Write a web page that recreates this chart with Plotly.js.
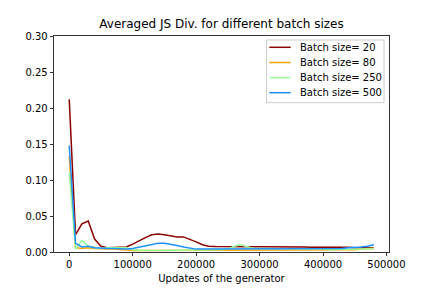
<!DOCTYPE html>
<html>
<head>
<meta charset="utf-8">
<script src="https://cdn.plot.ly/plotly-3.0.1.min.js"></script>
<style>html,body{margin:0;padding:0;background:#fff;}#chart{width:432px;height:288px;}</style>
</head>
<body>
<div id="chart"></div>
<script>
const updates = [0,10000,20000,30000,40000,50000,60000,70000,80000,90000,
  100000,110000,120000,130000,140000,150000,160000,170000,180000,190000,
  200000,210000,220000,230000,240000,250000,260000,270000,280000,290000,
  300000,310000,320000,330000,340000,350000,360000,370000,380000,390000,
  400000,410000,420000,430000,440000,450000,460000,470000,480000];

const batch20 = [0.212,0.024,0.039,0.043,0.018,0.008,0.006,0.006,0.006,0.007,
  0.011,0.016,0.020,0.024,0.025,0.024,0.022,0.021,0.021,0.018,
  0.014,0.010,0.008,0.0075,0.0075,0.007,0.007,0.008,0.0075,0.0075,
  0.008,0.008,0.008,0.0075,0.008,0.007,0.007,0.007,0.0065,0.0065,
  0.007,0.0075,0.007,0.007,0.0065,0.006,0.006,0.006,0.006];

const batch80 = [0.133,0.006,0.005,0.006,0.005,0.004,0.004,0.004,0.003,0.002,
  0.002,0.002,0.002,0.002,0.002,0.002,0.002,0.002,0.002,0.002,
  0.002,0.002,0.002,0.002,0.002,0.002,0.002,0.002,0.002,0.002,
  0.002,0.002,0.002,0.002,0.002,0.002,0.002,0.002,0.002,0.002,
  0.002,0.002,0.002,0.002,0.002,0.003,0.004,0.005,0.005];

const batch250 = [0.110,0.004,0.016,0.008,0.006,0.005,0.006,0.006,0.007,0.006,
  0.003,0.002,0.002,0.002,0.002,0.002,0.002,0.002,0.002,0.002,
  0.002,0.002,0.002,0.002,0.003,0.004,0.008,0.010,0.007,0.005,
  0.005,0.005,0.005,0.005,0.005,0.005,0.005,0.005,0.005,0.005,
  0.004,0.003,0.003,0.004,0.004,0.004,0.004,0.005,0.005];

const batch500 = [0.148,0.012,0.007,0.008,0.006,0.005,0.005,0.005,0.004,0.004,
  0.005,0.007,0.009,0.011,0.012,0.012,0.011,0.009,0.007,0.005,
  0.004,0.004,0.004,0.004,0.004,0.004,0.004,0.004,0.004,0.004,
  0.004,0.004,0.004,0.004,0.004,0.004,0.004,0.004,0.004,0.004,
  0.004,0.004,0.005,0.005,0.006,0.006,0.007,0.008,0.010];

const seriesNames = ['Batch size= 20','Batch size= 80','Batch size= 250','Batch size= 500'];
const xTicks = [0,100000,200000,300000,400000,500000];
const yTicks = [0,0.05,0.10,0.15,0.20,0.25,0.30];

const colors = ['#8b0000','#ffa500','#98fb98','#1e90ff'];
const values = [batch20, batch80, batch250, batch500];
const traces = values.map((v,i)=>({
  x: updates, y: v, type:'scatter', mode:'lines', name: seriesNames[i],
  line:{color:colors[i], width:1.5}
}));

const font = {family:'DejaVu Sans, sans-serif', size:10, color:'#000'};

// Legend drawn with shapes + annotations (matplotlib-like compact spacing)
const plotL = 54, plotR = 389, plotT = 36, plotB = 252;
const px2x = p => (p - plotL) / (plotR - plotL);
const py2y = p => (plotB - p) / (plotB - plotT);
const rowY = [47.3, 62.5, 77.6, 92.7];
const shapes = [{
  type:'rect', xref:'paper', yref:'paper', x0:px2x(266.5), x1:px2x(384), y0:py2y(102.7), y1:py2y(40),
  line:{color:'#cccccc', width:1}, fillcolor:'rgba(255,255,255,0.8)', layer:'above'
}];
const annotations = [];
seriesNames.forEach((n,i)=>{
  shapes.push({type:'line', xref:'paper', yref:'paper', x0:px2x(269.3), x1:px2x(290.7), y0:py2y(rowY[i]), y1:py2y(rowY[i]),
    line:{color:colors[i], width:1.5}, layer:'above'});
  annotations.push({xref:'paper', yref:'paper', x:px2x(299), y:py2y(rowY[i]), xanchor:'left', yanchor:'middle',
    text:n, showarrow:false, font:font, borderpad:0});
});

const layout = {
  width:432, height:288,
  margin:{l:54, r:43, t:36, b:36, pad:0},
  paper_bgcolor:'#fff', plot_bgcolor:'#fff',
  font: font,
  title:{text:'Averaged JS Div. for different batch sizes', font:{family:'DejaVu Sans, sans-serif', size:12, color:'#000'},
    x:0.5, xref:'paper', y:1-24/288, yref:'container', yanchor:'middle', xanchor:'center'},
  xaxis:{range:[-24000,504000], tickvals:xTicks, ticktext:xTicks.map(String), ticks:'outside', ticklen:3.5, tickwidth:0.8,
    tickcolor:'#000', showline:true, linecolor:'#000', linewidth:0.8, mirror:true, showgrid:false, zeroline:false,
    tickfont:font, title:{text:'Updates of the generator', font:font, standoff:5}},
  yaxis:{range:[0,0.30], tickvals:yTicks, ticktext:yTicks.map(v=>v.toFixed(2)), ticks:'outside', ticklen:3.5, tickwidth:0.8,
    tickcolor:'#000', showline:true, linecolor:'#000', linewidth:0.8, mirror:true, showgrid:false, zeroline:false,
    tickfont:font},
  shapes: shapes,
  annotations: annotations,
  showlegend:false
};
Plotly.newPlot('chart', traces, layout, {staticPlot:true, displayModeBar:false});
</script>
</body>
</html>
